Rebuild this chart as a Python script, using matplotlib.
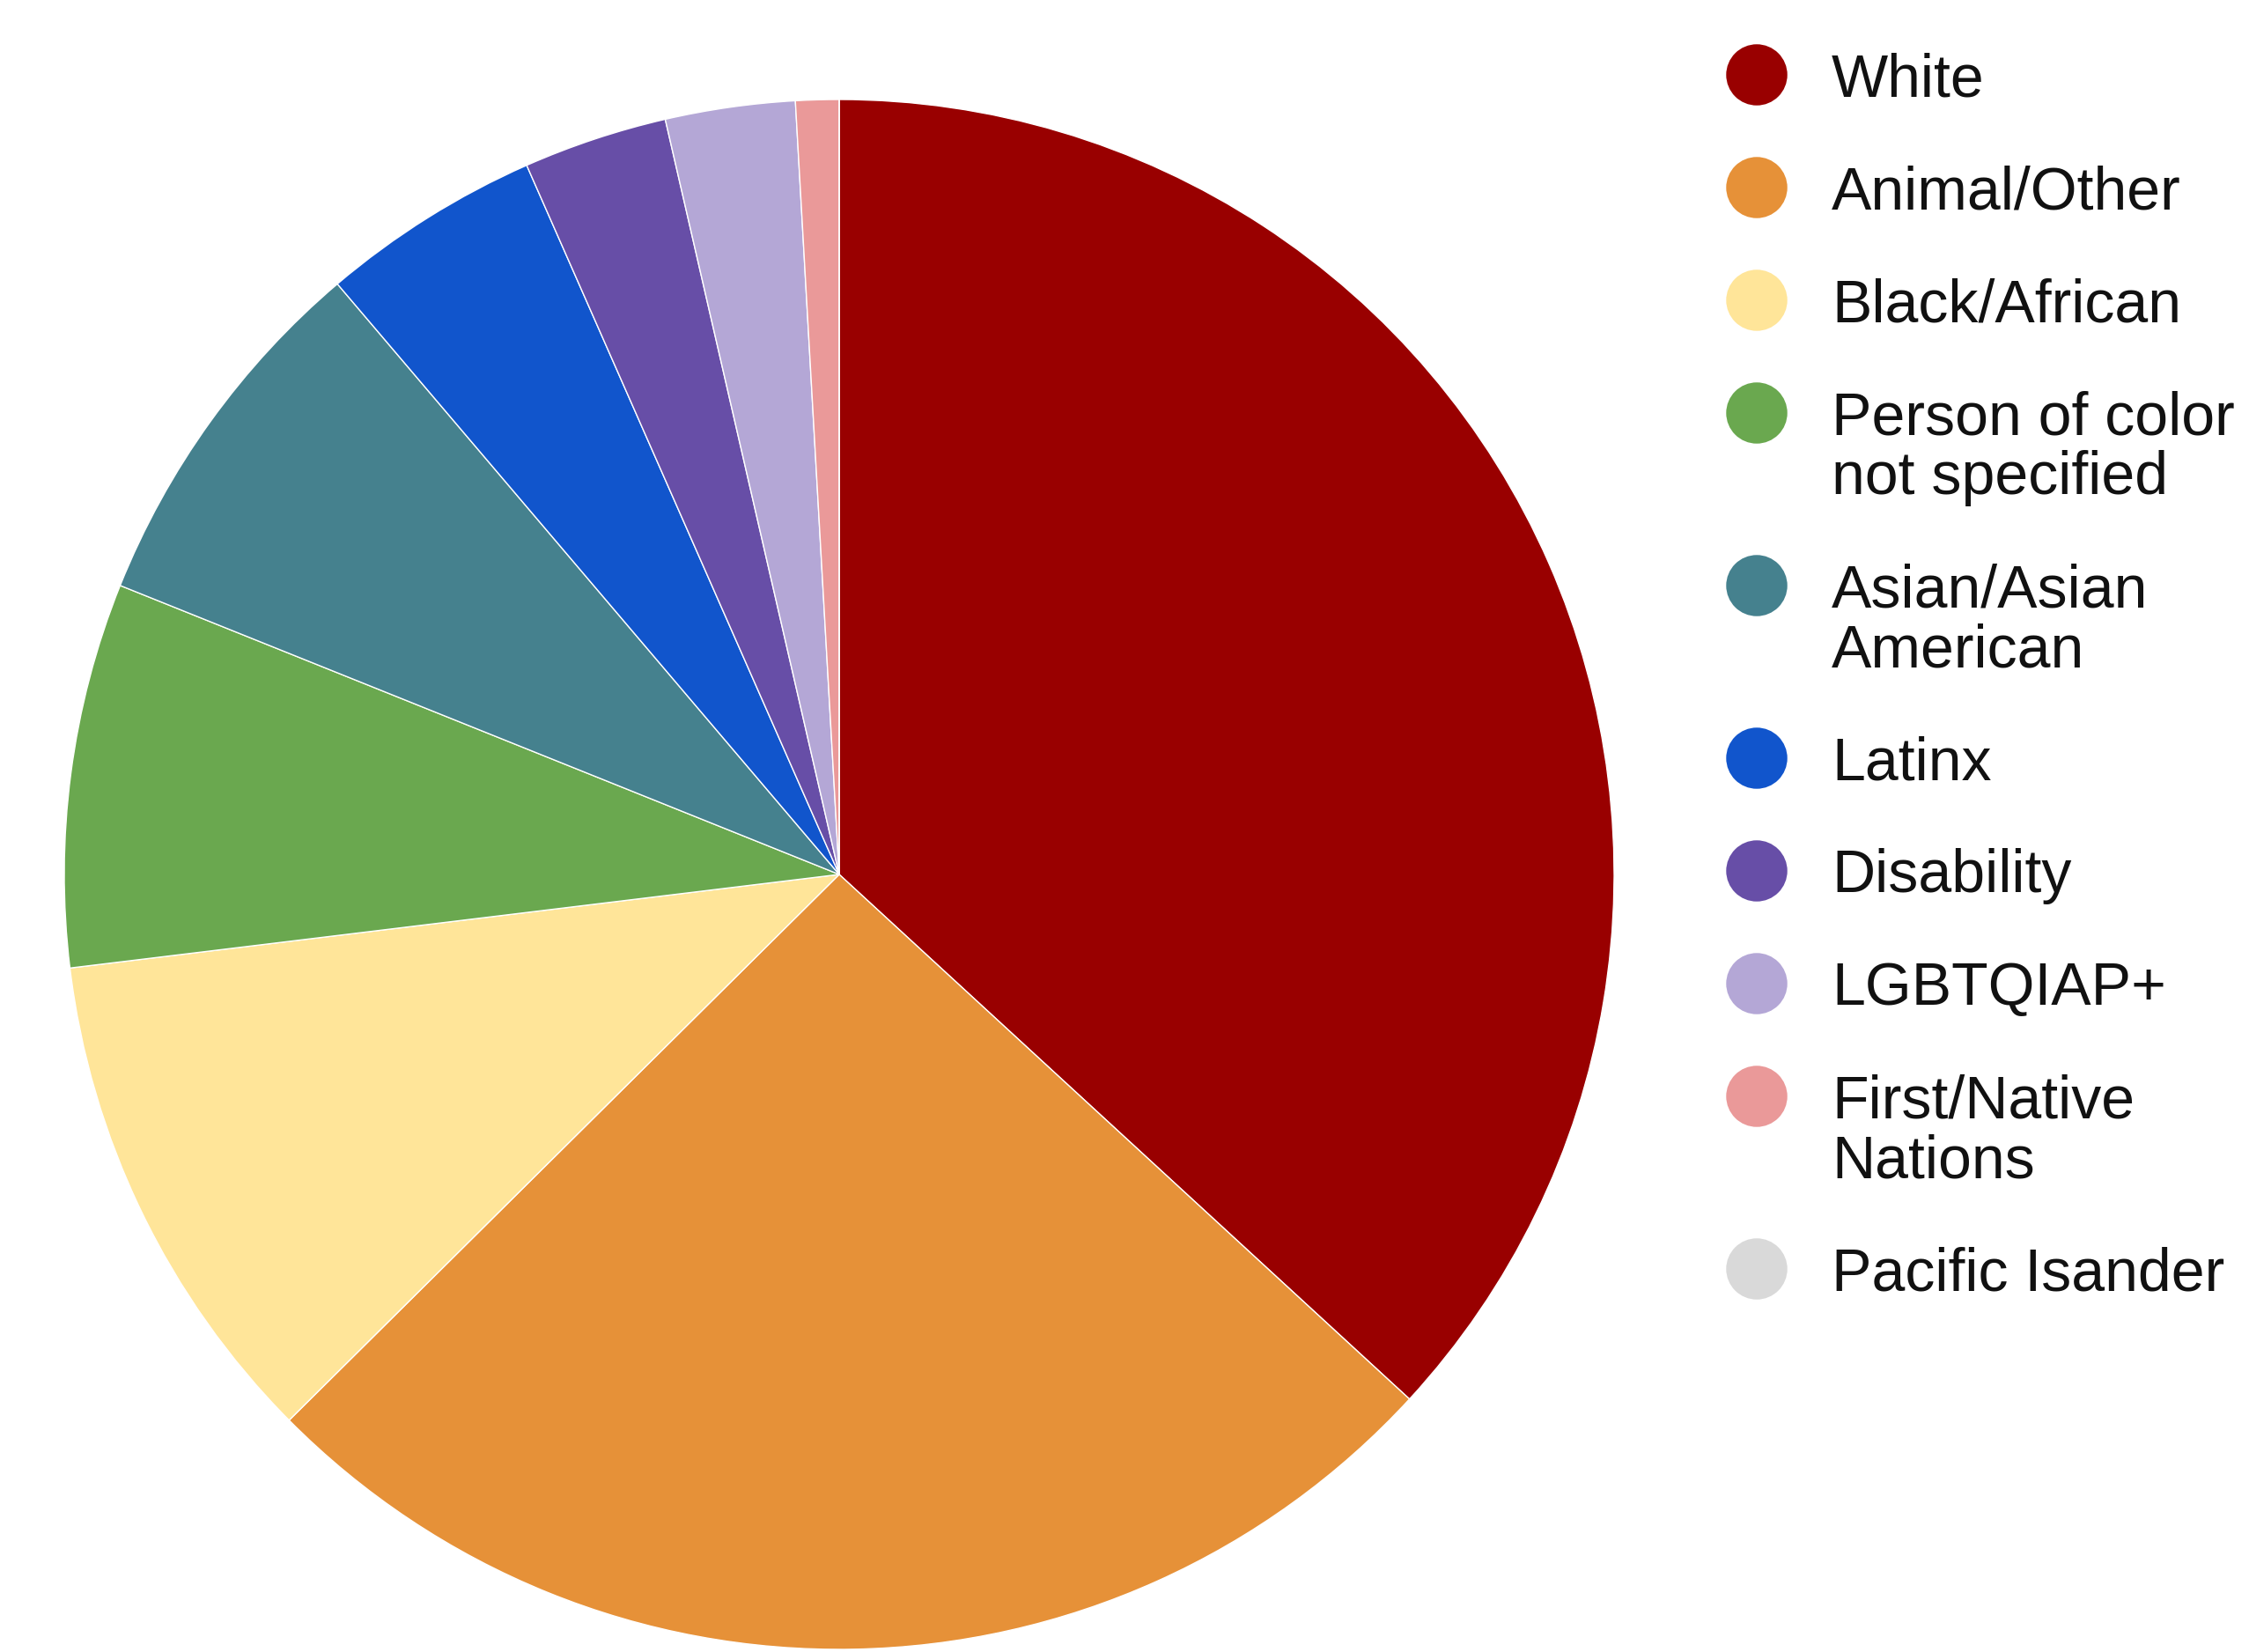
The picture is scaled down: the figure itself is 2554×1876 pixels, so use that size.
import matplotlib
matplotlib.use("Agg")
import matplotlib.pyplot as plt

# slice shares (percent)
groups = ["White", "Animal/Other", "Black/African", "Person of color\nnot specified",
          "Asian/Asian\nAmerican", "Latinx", "Disability", "LGBTQIAP+",
          "First/Native\nNations", "Pacific Isander"]
shares = [36.8, 25.7, 10.5, 8.0, 7.7, 4.6, 3.0, 2.7, 0.9, 0.0]
colors = ["#990000", "#e69138", "#ffe599", "#6aa84f", "#45818e",
          "#1155cc", "#674ea7", "#b4a7d6", "#ea9999", "#d9d9d9"]

plt.rcParams["font.family"] = ["Liberation Sans", "DejaVu Sans"]

W, H = 2554, 1876
fig = plt.figure(figsize=(W / 100, H / 100), dpi=100)

# pie axes, centre ~(953, 993) px, radius ~880 px
cx, cy, r = 953, 993, 880
ax = fig.add_axes([(cx - r) / W, (H - cy - r) / H, 2 * r / W, 2 * r / H])
ax.pie(shares, colors=colors, startangle=90, counterclock=False,
       wedgeprops=dict(edgecolor="white", linewidth=1))
ax.set_xlim(-1, 1)
ax.set_ylim(-1, 1)
ax.set_aspect("equal")
ax.axis("off")

# hand-made legend in pixel coordinates
leg = fig.add_axes([0, 0, 1, 1], zorder=-1)
leg.set_xlim(0, W)
leg.set_ylim(H, 0)
leg.axis("off")

y = 85
for name, c in zip(groups, colors):
    leg.scatter([1995], [y], s=2500, color=c, edgecolors="none")
    for i, line in enumerate(name.split("\n")):
        leg.text(2080, y + 24 + i * 68, line, fontsize=49, va="baseline",
                 ha="left", color="#111111")
    y += 128 + 68 * name.count("\n")

fig.savefig("out.png", dpi=100, facecolor="white")
